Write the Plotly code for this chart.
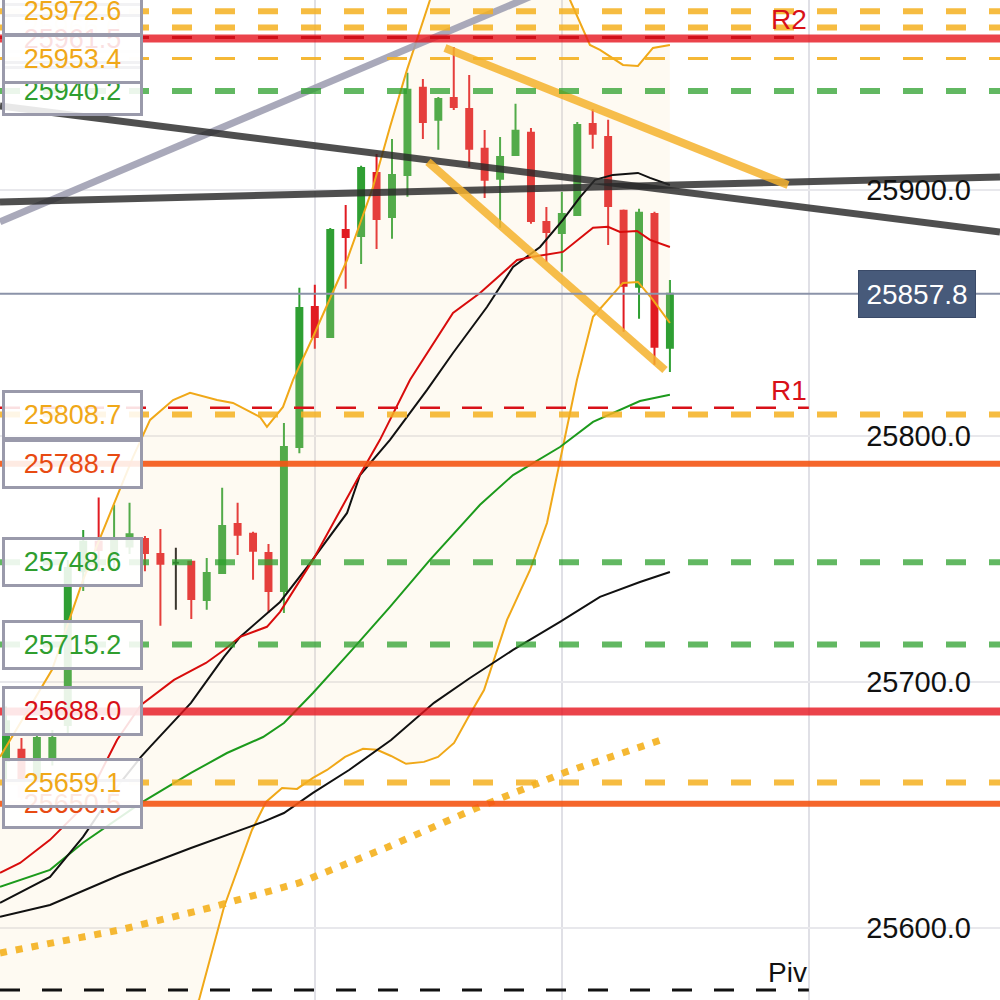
import plotly.graph_objects as go

FONT = "Liberation Sans, Arial, sans-serif"

# ---------------- candles (index, OHLC) ----------------
c_open = [25668, 25672.4, 25661, 25668.3, 25682.5, 25745, 25757, 25750, 25755, 25758.1,
          25752.0, 25748.4, 25748.8, 25733.3, 25744.3, 25764.2, 25760.2, 25752.4, 25737.0, 25795.5,
          25852.4, 25840.2, 25883.7, 25881.3, 25906.9, 25889.0, 25906.1, 25941.5, 25928.5, 25937.4,
          25932.9, 25916.7, 25904.5, 25914.2, 25923.2, 25887.0, 25882.5, 25889.8, 25926.8, 25921.5,
          25891.5, 25860.6, 25890.2, 25835.8]
c_high = [25690, 25677.2, 25679, 25680.5, 25749.6, 25761.8, 25775, 25772, 25772.8, 25759.3,
          25762.2, 25754.5, 25749.0, 25750.4, 25778.9, 25772.8, 25761.0, 25756.1, 25805.3, 25860.2,
          25861.4, 25884.5, 25893.9, 25909.8, 25914.6, 25920.7, 25947.6, 25945.1, 25937.8, 25958.1,
          25946.7, 25924.4, 25921.5, 25935.0, 25925.2, 25893.1, 25899.2, 25927.6, 25932.9, 25928.5,
          25892.0, 25892.3, 25891.1, 25863.4]
c_low = [25660, 25652, 25659, 25666, 25678, 25737, 25745, 25745, 25752, 25745,
         25722.8, 25729.3, 25725.6, 25729.3, 25744.0, 25751.6, 25741.5, 25728.0, 25728.0, 25793.0,
         25835.4, 25839.8, 25859.8, 25869.9, 25876.0, 25880.1, 25897.2, 25920.7, 25916.3, 25932.5,
         25909.3, 25896.7, 25884.6, 25913.8, 25886.2, 25870.7, 25866.7, 25889.4, 25916.7, 25877.6,
         25842.3, 25847.6, 25828.9, 25826.0]
c_close = [25684, 25653.3, 25677.2, 25677.2, 25746.3, 25757, 25753.6, 25758, 25760, 25752.4,
           25748.0, 25748.4, 25733.7, 25744.3, 25763.4, 25759.8, 25753.3, 25737.0, 25795.5, 25852.0,
           25840.2, 25883.7, 25880.9, 25908.9, 25888.2, 25906.1, 25940.7, 25927.6, 25937.0, 25933.7,
           25916.7, 25904.1, 25913.4, 25924.0, 25887.4, 25882.9, 25890.2, 25926.4, 25922.8, 25893.5,
           25861.0, 25890.7, 25836.2, 25857.8]
doji_index = 11

# ---------------- indicator lines (x = candle index, y = price) ----------------
ma_red_x = [-0.39, 0.91, 2.85, 4.99, 7.19, 8.74, 10.88, 12.95, 14.12, 15.16, 16.9, 17.75, 19.88,
            22.73, 24.22, 26.17, 28.95, 30.7, 33.1, 34.13, 36.07, 38.02, 38.99, 39.77, 40.87, 41.71, 43.0]
ma_red_y = [25622.4, 25626.4, 25635.8, 25649.2, 25676.4, 25690.6, 25700.8, 25707.7, 25713.0, 25718.3,
            25722.4, 25728.5, 25749.6, 25782.1, 25798.4, 25822.8, 25850.0, 25858.1, 25871.5, 25872.8,
            25874.8, 25884.6, 25885.0, 25882.9, 25883.3, 25879.7, 25876.8]

ma_black_x = [-0.39, 2.85, 4.99, 7.19, 8.74, 9.33, 11.98, 14.12, 15.16, 16.9, 17.75, 19.5, 22.09,
              22.93, 24.87, 27.27, 28.95, 31.15, 32.84, 34.59, 36.07, 37.18, 38.15, 39.31, 40.93,
              41.71, 43.0]
ma_black_y = [25610.2, 25620.7, 25637.0, 25657.3, 25669.5, 25673.6, 25691.5, 25710.2, 25718.3, 25728.0,
              25732.5, 25746.7, 25768.7, 25784.1, 25798.4, 25818.7, 25833.7, 25852.4, 25868.7, 25876.8,
              25887.8, 25897.1, 25904.1, 25906.1, 25906.9, 25904.9, 25902.0]

ma_green_x = [-0.39, 2.85, 4.99, 8.74, 11.98, 14.31, 16.65, 18.0, 19.88, 22.41, 24.87, 27.46, 30.7,
              32.84, 35.88, 38.02, 41.06, 43.0]
ma_green_y = [25616.7, 25623.6, 25634.6, 25650.8, 25663.0, 25671.1, 25677.6, 25683.3, 25695.5, 25713.0,
              25730.5, 25749.6, 25772.0, 25784.1, 25795.5, 25805.7, 25814.2, 25816.7]

ma_slow_x = [-0.39, 2.85, 7.38, 11.98, 16.65, 18.0, 19.88, 22.22, 24.94, 27.72, 30.05, 32.84, 35.88,
             38.47, 41.06, 43.0]
ma_slow_y = [25604.5, 25609.3, 25621.5, 25632.5, 25643.1, 25646.7, 25654.9, 25664.2, 25676.4, 25691.5,
             25701.6, 25713.0, 25724.4, 25734.6, 25740.6, 25744.7]

ma_dot_x = [-0.39, 7.38, 13.15, 18.98, 24.74, 30.5, 36.27, 42.42]
ma_dot_y = [25589.8, 25599.2, 25608.1, 25618.3, 25632.9, 25648.8, 25663.4, 25676.4]

bb_up_x = [-0.39, 2.98, 4.99, 6.93, 8.23, 9.33, 10.82, 11.92, 13.67, 14.7, 16.45, 16.9, 17.94, 18.59,
           19.88, 22.09, 23.77, 24.87, 25.97, 27.46, 29.4, 32.0, 34.6, 36.53, 37.82, 38.47, 39.96,
           40.93, 41.9, 43.0]
bb_up_y = [25669.5, 25704.9, 25741.5, 25771.1, 25791.5, 25806.5, 25814.6, 25817.5, 25814.6, 25813.4,
           25807.7, 25803.7, 25811.8, 25822.8, 25840.2, 25871.5, 25901.2, 25925.6, 25948.8, 25977.2,
           25995.0, 26005.0, 25995.0, 25977.2, 25958.9, 25956.9, 25950.8, 25950.4, 25957.7, 25958.9]

bb_lo_x = [-0.39, 6.0, 12.5, 14.12, 15.93, 16.84, 17.88, 18.85, 19.88, 20.79, 21.96, 23.12, 24.03,
           24.94, 25.91, 27.07, 27.98, 29.02, 29.92, 30.96, 32.45, 33.94, 35.04, 35.88, 36.53, 36.98,
           38.02, 39.96, 40.93, 41.9, 43.0]
bb_lo_y = [25520.0, 25535.0, 25570.7, 25608.5, 25639.8, 25651.2, 25656.9, 25656.5, 25661.0, 25664.2,
           25669.5, 25672.8, 25672.4, 25669.9, 25666.7, 25667.5, 25669.5, 25675.2, 25685.4, 25696.7,
           25725.2, 25745.5, 25764.6, 25789.0, 25809.3, 25822.8, 25848.4, 25862.2, 25862.6, 25855.3,
           25845.9]

# ---------------- trend lines (two end points each) ----------------
tl_gray_x, tl_gray_y = [-0.39, 35.88], [25887.0, 25983.7]
tl_dark1_x, tl_dark1_y = [-0.39, 64.38], [25934.1, 25882.9]
tl_dark2_x, tl_dark2_y = [-0.39, 64.38], [25895.1, 25905.3]
tl_or_up_x, tl_or_up_y = [28.43, 50.65], [25957.7, 25902.0]
tl_or_lo_x, tl_or_lo_y = [27.33, 42.68], [25911.4, 25826.8]

# ---------------- horizontal levels ----------------
lvl_prices = [25972.6, 25966.0, 25961.5, 25953.4, 25940.2, 25808.7, 25788.7, 25748.6, 25715.2,
              25688.0, 25659.1, 25650.5]
lvl_texts = ["25972.6", "25966.0", "25961.5", "25953.4", "25940.2", "25808.7", "25788.7", "25748.6",
             "25715.2", "25688.0", "25659.1", "25650.5"]
lvl_kinds = ["od", "od", "rs", "odt", "gd", "od", "os", "gd", "gd", "rs", "od", "os"]

pivot_names = ["R2", "R1", "Piv"]
pivot_prices = [25962.0, 25811.4, 25574.8]

last_price = 25857.8
y_ticks = [25600, 25700, 25800, 25900]
x_grid = [20, 36, 52]

# ---------------- styles ----------------
GREEN = "#2f9f33"
RED = "#e11b22"

kind_style = {
    "od": dict(color="rgba(244,176,32,0.85)", width=6, dash="20px,23px"),
    "odt": dict(color="rgba(244,176,32,0.9)", width=3, dash="20px,23px"),
    "rs": dict(color="rgba(230,20,30,0.8)", width=8, dash="solid"),
    "os": dict(color="rgba(244,85,20,0.9)", width=6, dash="solid"),
    "gd": dict(color="rgba(45,160,45,0.75)", width=6, dash="20px,23px"),
}
kind_text = {"od": "#f0a818", "odt": "#f0a818", "rs": "#d81018", "os": "#e84a12", "gd": "#2f9e2f"}

fig = go.Figure()

# Bollinger bands with fill
fig.add_trace(go.Scatter(x=bb_up_x, y=bb_up_y, mode="lines",
                         line=dict(color="#f0a818", width=2), hoverinfo="skip"))
fig.add_trace(go.Scatter(x=bb_lo_x, y=bb_lo_y, mode="lines", fill="tonexty",
                         fillcolor="rgba(250,225,185,0.18)",
                         line=dict(color="#f0a818", width=2), hoverinfo="skip"))

# candles
main_i = [i for i in range(len(c_open)) if i != doji_index]
fig.add_trace(go.Candlestick(
    x=main_i,
    open=[c_open[i] for i in main_i], high=[c_high[i] for i in main_i],
    low=[c_low[i] for i in main_i], close=[c_close[i] for i in main_i],
    increasing=dict(line=dict(color=GREEN, width=2), fillcolor=GREEN),
    decreasing=dict(line=dict(color=RED, width=2), fillcolor=RED),
    whiskerwidth=0, hoverinfo="skip"))
fig.add_trace(go.Candlestick(
    x=[doji_index], open=[c_open[doji_index]], high=[c_high[doji_index]],
    low=[c_low[doji_index]], close=[c_close[doji_index]],
    increasing=dict(line=dict(color="#111111", width=2), fillcolor="#111111"),
    decreasing=dict(line=dict(color="#111111", width=2), fillcolor="#111111"),
    whiskerwidth=0, hoverinfo="skip"))

# moving averages
fig.add_trace(go.Scatter(x=ma_dot_x, y=ma_dot_y, mode="lines",
                         line=dict(color="rgba(244,180,40,0.95)", width=7, dash="7px,9px")))
fig.add_trace(go.Scatter(x=ma_slow_x, y=ma_slow_y, mode="lines", line=dict(color="#111111", width=2)))
fig.add_trace(go.Scatter(x=ma_green_x, y=ma_green_y, mode="lines", line=dict(color="#1c9a1c", width=2)))
fig.add_trace(go.Scatter(x=ma_black_x, y=ma_black_y, mode="lines", line=dict(color="#111111", width=2)))
fig.add_trace(go.Scatter(x=ma_red_x, y=ma_red_y, mode="lines", line=dict(color="#d80c0c", width=2)))

# trend lines
fig.add_trace(go.Scatter(x=tl_gray_x, y=tl_gray_y, mode="lines",
                         line=dict(color="rgba(160,160,178,0.9)", width=7)))
fig.add_trace(go.Scatter(x=tl_dark1_x, y=tl_dark1_y, mode="lines",
                         line=dict(color="rgba(40,40,40,0.82)", width=7)))
fig.add_trace(go.Scatter(x=tl_dark2_x, y=tl_dark2_y, mode="lines",
                         line=dict(color="rgba(40,40,40,0.82)", width=7)))
fig.add_trace(go.Scatter(x=tl_or_up_x, y=tl_or_up_y, mode="lines",
                         line=dict(color="rgba(245,178,45,0.85)", width=8)))
fig.add_trace(go.Scatter(x=tl_or_lo_x, y=tl_or_lo_y, mode="lines",
                         line=dict(color="rgba(245,178,45,0.85)", width=8)))

# level lines (shapes)
shapes = []
for p, k in zip(lvl_prices, lvl_kinds):
    st = kind_style[k]
    shapes.append(dict(type="line", xref="paper", x0=0, x1=1, yref="y", y0=p, y1=p,
                       line=dict(color=st["color"], width=st["width"], dash=st["dash"])))
# current price line
shapes.append(dict(type="line", xref="paper", x0=0, x1=1, yref="y", y0=last_price, y1=last_price,
                   line=dict(color="#8b93a9", width=2)))
# pivot lines up to index 52
piv_styles = [dict(color="#d0101a", width=3, dash="20px,23px"),
              dict(color="#d81018", width=2.5, dash="20px,22px"),
              dict(color="#111111", width=3, dash="20px,22px")]
for p, st in zip(pivot_prices, piv_styles):
    shapes.append(dict(type="line", xref="x", x0=-0.39, x1=52, yref="y", y0=p, y1=p, line=st))

annotations = []
# left label boxes, in stacking order
order = [4, 1, 2, 0, 3, 5, 6, 7, 8, 9, 11, 10]
for i in order:
    annotations.append(dict(
        xref="paper", x=0.002, xanchor="left", yref="y", y=lvl_prices[i], yanchor="middle",
        text=lvl_texts[i], showarrow=False,
        font=dict(size=27, color=kind_text[lvl_kinds[i]], family=FONT),
        bgcolor="rgba(255,255,255,0.87)", bordercolor="#9a9aab", borderwidth=3, borderpad=2,
        width=131, height=40, align="center"))
# pivot labels
piv_colors = ["#d81018", "#d81018", "#111111"]
for name, p, c in zip(pivot_names, pivot_prices, piv_colors):
    annotations.append(dict(xref="x", x=52, xanchor="right", yref="y", y=p, yanchor="bottom",
                            text=name, showarrow=False,
                            font=dict(size=28, color=c, family=FONT)))
# current price box
annotations.append(dict(xref="paper", x=0.917, xanchor="center", yref="y", y=last_price,
                        yanchor="middle", text=f"{last_price:.1f}", showarrow=False,
                        font=dict(size=28, color="white", family=FONT),
                        bgcolor="#475a7a", bordercolor="#3a4a68", borderwidth=1, borderpad=4,
                        width=108, height=38))

fig.update_layout(
    width=1000, height=1000,
    margin=dict(l=0, r=0, t=0, b=0),
    paper_bgcolor="white", plot_bgcolor="white",
    showlegend=False,
    boxgap=0.45,
    shapes=shapes,
    annotations=annotations,
    font=dict(family=FONT),
    xaxis=dict(range=[-0.39, 64.38], showticklabels=False, ticks="", showgrid=True,
               gridcolor="#e0e0e6", gridwidth=2, tickvals=x_grid, zeroline=False,
               rangeslider=dict(visible=False), showline=False, fixedrange=True),
    yaxis=dict(range=[25570.7, 25977.2], side="right", ticklabelposition="inside",
               tickvals=y_ticks, ticktext=[f"{v:.1f}" for v in y_ticks],
               tickfont=dict(size=29, color="#111111", family=FONT),
               ticklabelstandoff=26, ticks="",
               showgrid=True, gridcolor="#e8e8ec", gridwidth=2, zeroline=False, showline=False),
)

fig.write_html("out.html", config={"displayModeBar": False},
               post_script="document.body.style.margin='0';document.body.style.overflow='hidden';")
